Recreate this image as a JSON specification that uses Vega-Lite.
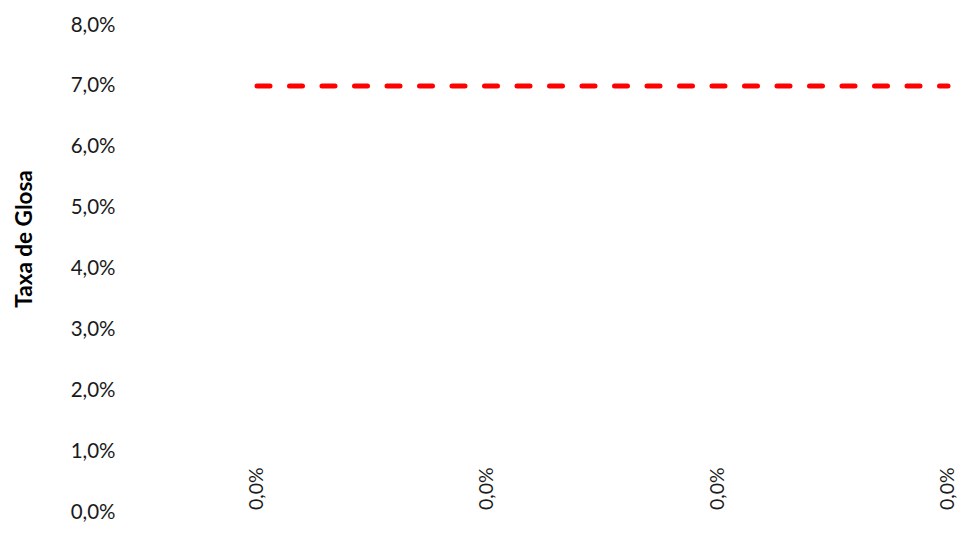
{
  "$schema": "https://vega.github.io/schema/vega-lite/v6.json",
  "width": 834,
  "height": 487,
  "autosize": {"type": "none"},
  "padding": {"left": 130, "top": 25, "right": 0, "bottom": 21},
  "background": "white",
  "data": {"values": [
    {"periodo": "1", "taxa": 0, "meta": 0.07},
    {"periodo": "2", "taxa": 0, "meta": 0.07},
    {"periodo": "3", "taxa": 0, "meta": 0.07},
    {"periodo": "4", "taxa": 0, "meta": 0.07}
  ]},
  "encoding": {
    "x": {"field": "periodo", "type": "ordinal", "axis": null,
          "scale": {"type": "point", "range": [127, 818], "padding": 0}}
  },
  "layer": [
    {
      "mark": {"type": "line", "color": "#ff0000", "strokeWidth": 5, "strokeCap": "round", "strokeDash": [13, 19.5]},
      "encoding": {
        "y": {"field": "meta", "type": "quantitative",
              "scale": {"domain": [0, 0.08], "nice": false, "zero": true},
              "axis": {
                "title": "Taxa de Glosa",
                "titleFont": "Lato", "titleFontSize": 22.5, "titleFontWeight": "bold", "titleColor": "#000000",
                "titleAngle": 270, "titleAlign": "center", "titleBaseline": "middle",
                "titleX": -105.5, "titleY": 213.5,
                "values": [0, 0.01, 0.02, 0.03, 0.04, 0.05, 0.06, 0.07, 0.08],
                "format": ".1%",
                "labelFont": "Lato", "labelFontSize": 20.5, "labelColor": "#1a1a1a",
                "labelPadding": 15, "grid": false, "domain": false, "ticks": false
              }}
      }
    },
    {
      "mark": {"type": "text", "angle": 270, "align": "left", "baseline": "middle", "dx": 2,
               "font": "Lato", "fontSize": 19.5, "color": "#1a1a1a"},
      "encoding": {
        "y": {"field": "taxa", "type": "quantitative"},
        "text": {"field": "taxa", "type": "quantitative", "format": ".1%"}
      }
    }
  ],
  "config": {
    "view": {"stroke": null},
    "locale": {"number": {"decimal": ",", "thousands": ".", "grouping": [3], "currency": ["R$", ""]}}
  }
}
